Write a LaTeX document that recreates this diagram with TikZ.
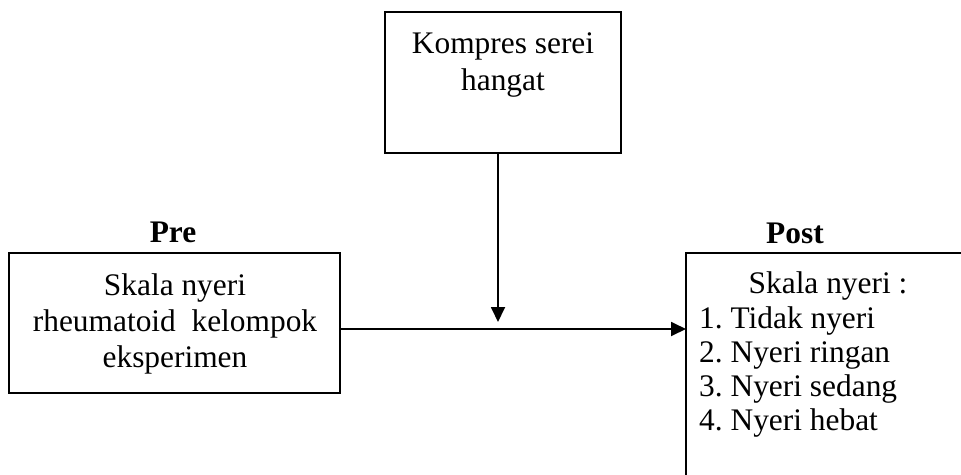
\documentclass[tikz,border=0pt]{standalone}
\usepackage{fontspec}
\setmainfont{Liberation Serif}
\usetikzlibrary{arrows.meta}
\frenchspacing

\begin{document}
\begin{tikzpicture}[
  x=1pt, y=-1pt,
  font=\fontsize{31.4}{36}\selectfont,
  box/.style={draw, line width=1.8pt, outer sep=0pt, inner sep=0pt},
  txt/.style={inner sep=0pt, anchor=base},
  arr/.style={line width=1.8pt, -{Triangle[length=15pt, width=14pt]}}
]
\useasboundingbox (0,0) rectangle (961,474);

% treatment box at the top
\node[box, minimum width=236pt, minimum height=141pt] (treat) at (503,82.5) {};
\node[txt] (treatText) at (503,53)
  {\def\arraystretch{1.03}\begin{tabular}[t]{@{}c@{}}Kompres serei\\hangat\end{tabular}};

% pre-test box
\node[txt, font=\fontsize{31.4}{36}\selectfont\bfseries] (preLabel) at (173,242) {Pre};
\node[box, minimum width=331pt, minimum height=140pt] (preBox) at (174.5,323) {};
\node[txt] (preText) at (175,295)
  {\begin{tabular}[t]{@{}c@{}}Skala nyeri\\rheumatoid\ \ kelompok\\eksperimen\end{tabular}};

% post-test box (runs off the page at right and bottom)
\node[txt, font=\fontsize{31.4}{36}\selectfont\bfseries] (postLabel) at (795,243) {Post};
\node[box, anchor=north west, minimum width=300pt, minimum height=260pt] (postBox) at (686,253) {};
\node[txt] (postTitle) at (828,293) {Skala nyeri :};
\node[txt, anchor=base west] (postList) at (699,328)
  {\def\arraystretch{0.953}\begin{tabular}[t]{@{}l@{}}1. Tidak nyeri\\2. Nyeri ringan\\3. Nyeri sedang\\4. Nyeri hebat\end{tabular}};

% connectors
\coordinate (drop) at (498,322);
\coordinate (flow) at (0,329);
\draw[arr] (drop |- treat.south) -- (drop);
\draw[arr] (preBox.east |- flow) -- (postBox.west |- flow);
\end{tikzpicture}
\end{document}
